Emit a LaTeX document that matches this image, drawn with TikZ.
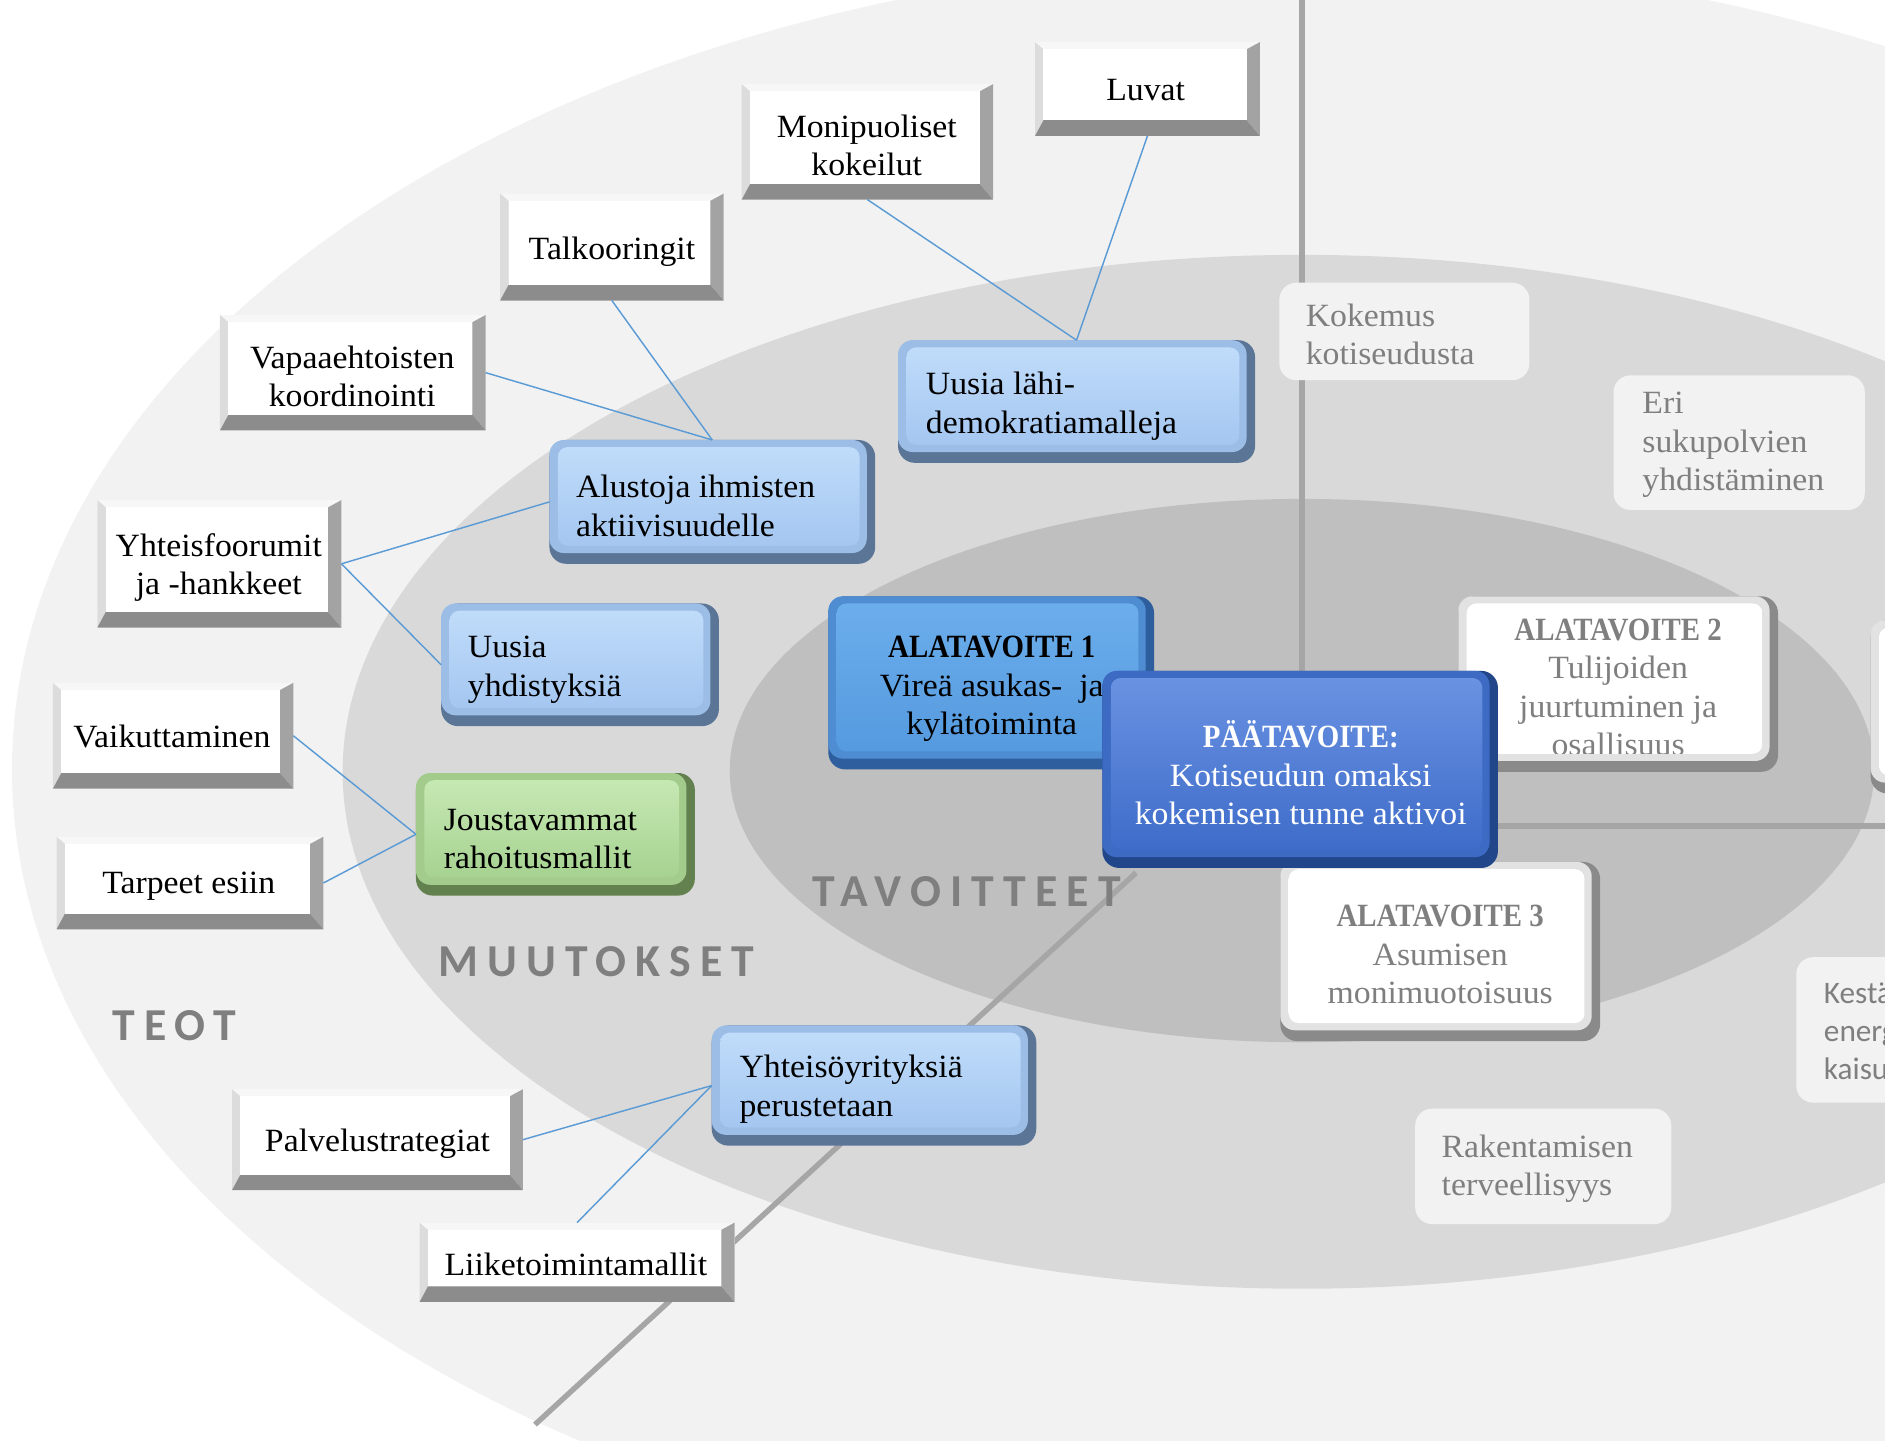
\documentclass[tikz,border=0pt]{standalone}
\usepackage{fontspec}
\setmainfont{Liberation Serif}[FakeStretch=1.04]
\newfontfamily\bnar{Liberation Serif Bold}[FakeStretch=0.89]
\newfontfamily\lblfont{Carlito}[LetterSpace=20]
\newfontfamily\sansbox{Carlito}
\definecolor{ringA}{HTML}{F2F2F2}
\definecolor{ringB}{HTML}{D9D9D9}
\definecolor{ringC}{HTML}{BFBFBF}
\definecolor{axisc}{HTML}{A6A6A6}
\definecolor{connc}{HTML}{5B9BD5}
\definecolor{lblc}{HTML}{7F7F7F}
\definecolor{bvtop}{HTML}{F7F7F7}
\definecolor{bvleft}{HTML}{DCDCDC}
\definecolor{bvright}{HTML}{A3A3A3}
\definecolor{bvbot}{HTML}{8C8C8C}
\definecolor{bedge}{HTML}{5B7597}
\definecolor{bbev}{HTML}{9CBDE6}
\definecolor{bftop}{HTML}{C0DCFA}
\definecolor{bfbot}{HTML}{A4C6F0}
\definecolor{gedge}{HTML}{63804F}
\definecolor{gbev}{HTML}{A3CC8C}
\definecolor{gftop}{HTML}{C6E8B3}
\definecolor{gfbot}{HTML}{A6D291}
\definecolor{aedge}{HTML}{2E5E9E}
\definecolor{abev}{HTML}{4F8DD2}
\definecolor{aftop}{HTML}{6CAEEC}
\definecolor{afbot}{HTML}{559ADF}
\definecolor{medge}{HTML}{22468A}
\definecolor{mbev}{HTML}{3D6AC2}
\definecolor{mftop}{HTML}{6A92E2}
\definecolor{mfbot}{HTML}{3E6CC9}
\definecolor{wedge}{HTML}{8A8A8A}
\definecolor{wbev}{HTML}{E2E2E2}

% white bevelled box: name, x1, y1, x2, y2
\newcommand\bevelbox[5]{%
  \fill[bvtop] (#2,#3) rectangle (#4,#5);
  \fill[bvleft] (#2,#3) -- ({#2+7},{#3+6}) -- ({#2+7},{#5-13}) -- (#2,#5) -- cycle;
  \fill[bvright] (#4,#3) -- ({#4-11},{#3+6}) -- ({#4-11},{#5-13}) -- (#4,#5) -- cycle;
  \fill[bvbot] (#2,#5) -- ({#2+7},{#5-13}) -- ({#4-11},{#5-13}) -- (#4,#5) -- cycle;
  \fill[white] ({#2+7},{#3+6}) rectangle ({#4-11},{#5-13});
  \node[hook, minimum width={#4-#2}, minimum height={#5-#3}] (#1) at ({(#2+#4)/2},{(#3+#5)/2}) {};
}
% rounded bevelled box: name, x1, y1, x2, y2, edge, bevel, face top, face bottom
\newcommand\roundbox[9]{%
  \fill[#6, rounded corners=14] (#2,#3) rectangle (#4,#5);
  \fill[#7, rounded corners=12] (#2,#3) rectangle ({#4-7},{#5-9});
  \shade[top color=#8, bottom color=#9, rounded corners=8] ({#2+7},{#3+6}) rectangle ({#4-13},{#5-15});
  \node[hook, minimum width={#4-#2}, minimum height={#5-#3}] (#1) at ({(#2+#4)/2},{(#3+#5)/2}) {};
}
\tikzset{
  hook/.style={inner sep=0, outer sep=0, draw=none},
  btxt/.style={font=\fontsize{27}{32}\selectfont, inner sep=0, align=center},
  ltxt/.style={btxt, align=left, anchor=west},
  graytxt/.style={ltxt, text=lblc},
  graybox/.style={fill=ringA, rounded corners=14, inner sep=0, anchor=north west},
  seclbl/.style={font=\lblfont\bfseries\fontsize{38}{38}\selectfont, text=lblc, inner sep=0},
  connector/.style={draw=connc, line width=1.2},
  axisline/.style={draw=axisc, line width=4.5}
}
\begin{document}
\begin{tikzpicture}[x=1pt, y=-1pt]
\useasboundingbox (0,0) rectangle (1568,1198);
\clip (0,0) rectangle (1568,1198);
\fill[white] (0,0) rectangle (1568,1198);
% rings
\fill[ringA] (1083,640) ellipse [x radius=1073, y radius=674];
\fill[ringB] (1083,642) ellipse [x radius=798, y radius=430];
\fill[ringC] (1083,641) ellipse [x radius=476, y radius=226];
% axes
\coordinate (axtop) at (1083,0);
\coordinate (axtopend) at (1083,600);
\coordinate (axright) at (1568,687);
\coordinate (axrightstart) at (1200,687);
\coordinate (axdiag) at (445,1185);
\coordinate (axdiagend) at (945,726);
\draw[axisline] (axtop) -- (axtopend);
\draw[axisline] (axrightstart) -- (axright);
\draw[axisline] (axdiag) -- (axdiagend);

% section labels
\node[seclbl] (teot) at (145,853) {TEOT};
\node[seclbl] (muutokset) at (496,800) {MUUTOKSET};
\node[seclbl] (tavoitteet) at (804,742) {TAVOITTEET};

% gray text boxes
\node[graybox, minimum width=208, minimum height=81] (kokbox) at (1064,235) {};
\node[graytxt] (kok) at (1086,278) {Kokemus\\kotiseudusta};
\node[graybox, minimum width=209, minimum height=112] (eribox) at (1342,312) {};
\node[graytxt] (eri) at (1366,370) {Eri\\sukupolvien\\yhdistäminen};
\node[graybox, minimum width=200, minimum height=121] (kestbox) at (1494,796) {};
\node[graytxt, font=\sansbox\fontsize{26}{31.5}\selectfont] (kest) at (1517,858) {Kestävät\\energiarat-\\kaisut};
\node[graybox, minimum width=213, minimum height=96] (rakbox) at (1177,922) {};
\node[graytxt] (rak) at (1199,972) {Rakentamisen\\terveellisyys};

% white bevel boxes (TEOT)
\bevelbox{luvat}{861}{35}{1048}{113}
\node[btxt] (luvat-t) at (953,75) {Luvat};
\bevelbox{moni}{617}{70}{826}{166}
\node[btxt] (moni-t) at (721,121) {Monipuoliset\\kokeilut};
\bevelbox{talko}{416}{161}{602}{250}
\node[btxt] (talko-t) at (509,209) {Talkooringit};
\bevelbox{vapaa}{183}{262}{404}{358}
\node[btxt] (vapaa-t) at (293,313) {Vapaaehtoisten\\koordinointi};
\bevelbox{yhtf}{81}{416}{284}{522}
\node[btxt] (yhtf-t) at (182,472) {Yhteisfoorumit\\ja -hankkeet};
\bevelbox{vaik}{44}{568}{244}{656}
\node[btxt] (vaik-t) at (143,613) {Vaikuttaminen};
\bevelbox{tarp}{47}{696}{269}{773}
\node[btxt] (tarp-t) at (157,737) {Tarpeet esiin};
\bevelbox{palv}{193}{906}{435}{990}
\node[btxt] (palv-t) at (314,951) {Palvelustrategiat};
\bevelbox{liike}{349}{1017}{611}{1083}
\node[btxt] (liike-t) at (479,1052) {Liiketoimintamallit};

% MUUTOKSET boxes
\roundbox{lahi}{747}{283}{1044}{385}{bedge}{bbev}{bftop}{bfbot}
\node[ltxt] (lahi-t) at (770,338) {Uusia lähi-\\demokratiamalleja};
\roundbox{alust}{457}{366}{728}{469}{bedge}{bbev}{bftop}{bfbot}
\node[ltxt] (alust-t) at (479,421) {Alustoja ihmisten\\aktiivisuudelle};
\roundbox{yhdist}{367}{502}{598}{604}{bedge}{bbev}{bftop}{bfbot}
\node[ltxt] (yhdist-t) at (389,557) {Uusia\\yhdistyksiä};
\roundbox{jousta}{346}{643}{578}{745}{gedge}{gbev}{gftop}{gfbot}
\node[ltxt] (jousta-t) at (369,698) {Joustavammat\\rahoitusmallit};
\roundbox{yhteiso}{592}{853}{862}{953}{bedge}{bbev}{bftop}{bfbot}
\node[ltxt] (yhteiso-t) at (615,906) {Yhteisöyrityksiä\\perustetaan};

% connectors
\draw[connector] (luvat.south) -- (lahi.north);
\draw[connector] (moni.south) -- (lahi.north);
\draw[connector] (talko.south) -- (alust.north);
\draw[connector] (vapaa.east) -- (alust.north);
\draw[connector] (yhtf.east) -- (alust.west);
\draw[connector] (yhtf.east) -- (yhdist.west);
\draw[connector] (vaik.east) -- (jousta.west);
\draw[connector] (tarp.east) -- (jousta.west);
\draw[connector] (palv.east) -- (yhteiso.west);
\draw[connector] (liike.north) -- (yhteiso.west);

% TAVOITTEET boxes
\roundbox{alat4}{1556}{516}{1760}{660}{wedge}{wbev}{white}{white}
\roundbox{alat1}{689}{496}{960}{640}{aedge}{abev}{aftop}{afbot}
\node[btxt] (alat1-t) at (825,573) {{\bnar ALATAVOITE 1}\\Vireä asukas-~ ja\\kylätoiminta};
\roundbox{alat2}{1213}{496}{1479}{642}{wedge}{wbev}{white}{white}
\begin{scope}
\clip (1220,502) rectangle (1466,627);
\node[btxt, text=lblc] (alat2-t) at (1346,572) {{\bnar ALATAVOITE 2}\\Tulijoiden\\juurtuminen ja\\osallisuus};
\end{scope}
\roundbox{alat3}{1065}{717}{1331}{866}{wedge}{wbev}{white}{white}
\node[btxt, text=lblc] (alat3-t) at (1198,794) {{\bnar ALATAVOITE 3}\\Asumisen\\monimuotoisuus};
\roundbox{paa}{917}{558}{1246}{722}{medge}{mbev}{mftop}{mfbot}
\node[btxt, text=white] (paa-t) at (1082,643) {{\bnar PÄÄTAVOITE:}\\Kotiseudun omaksi\\kokemisen tunne aktivoi};
\end{tikzpicture}
\end{document}
